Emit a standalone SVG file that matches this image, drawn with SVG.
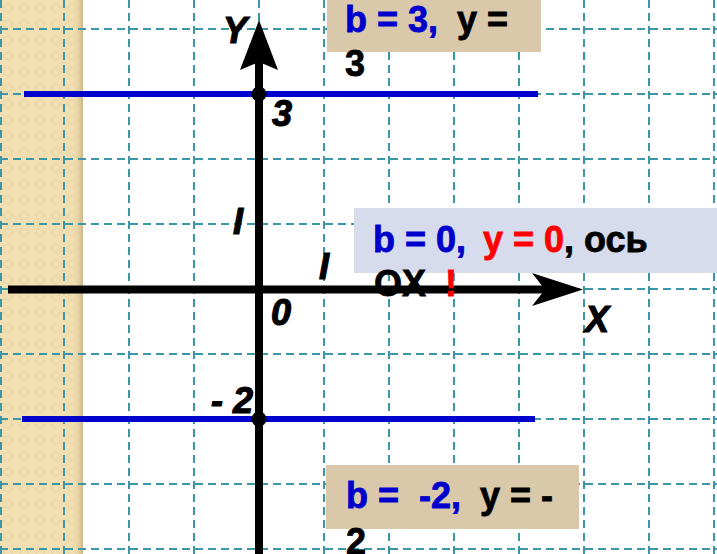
<svg xmlns="http://www.w3.org/2000/svg" width="717" height="554" viewBox="0 0 717 554">
<defs>
<style>
.grid line{stroke:#3b96a8;stroke-width:2;stroke-dasharray:8 5;fill:none}
.blue{stroke:#0000cc;stroke-width:6;fill:none}
.axis{stroke:#000;stroke-width:8;fill:none}
.lbl{font-family:"Liberation Sans",Arial,sans-serif;font-weight:bold;font-style:italic;font-size:36px;fill:#000;stroke:#000;stroke-width:1.2}
.box text{font-family:"Liberation Sans",Arial,sans-serif;font-weight:bold;font-size:36px;fill:#000;stroke:#000;stroke-width:0.8}
.b{fill:#0000cc;stroke:#0000cc}
.r{fill:#ff0000;stroke:#ff0000}
.k{fill:#000;stroke:#000}
.tan{fill:#d9c9aa}
.lav{fill:#d6dcec}
</style>
<pattern id="tex" width="16" height="16" patternUnits="userSpaceOnUse">
<rect width="16" height="16" fill="#f1dfb1"/>
<circle cx="8" cy="8" r="4" fill="none" stroke="#ebd7a7" stroke-width="1.2"/>
</pattern>
<linearGradient id="shade" x1="0" y1="0" x2="1" y2="0">
<stop offset="0" stop-color="#f1dfb1" stop-opacity="0"/>
<stop offset="1" stop-color="#cdb688"/>
</linearGradient>
</defs>
<rect width="717" height="554" fill="#fff"/>
<g id="band">
<rect x="0" y="0" width="83" height="554" fill="url(#tex)"/>
<rect x="72" y="0" width="11" height="554" fill="url(#shade)"/>
</g>
<g id="grid" class="grid">
<line x1="1" y1="0" x2="1" y2="554"/>
<line x1="64" y1="0" x2="64" y2="554"/>
<line x1="129" y1="0" x2="129" y2="554"/>
<line x1="194" y1="0" x2="194" y2="554"/>
<line x1="259" y1="0" x2="259" y2="554"/>
<line x1="324" y1="0" x2="324" y2="554"/>
<line x1="389" y1="0" x2="389" y2="554"/>
<line x1="454" y1="0" x2="454" y2="554"/>
<line x1="519" y1="0" x2="519" y2="554"/>
<line x1="584" y1="0" x2="584" y2="554"/>
<line x1="649" y1="0" x2="649" y2="554"/>
<line x1="714" y1="0" x2="714" y2="554"/>
<line x1="0" y1="29" x2="717" y2="29"/>
<line x1="0" y1="94" x2="717" y2="94"/>
<line x1="0" y1="159" x2="717" y2="159"/>
<line x1="0" y1="224" x2="717" y2="224"/>
<line x1="0" y1="289" x2="717" y2="289"/>
<line x1="0" y1="354" x2="717" y2="354"/>
<line x1="0" y1="419" x2="717" y2="419"/>
<line x1="0" y1="484" x2="717" y2="484"/>
<line x1="0" y1="549" x2="717" y2="549"/>
</g>
<g id="lines">
<line class="blue" x1="24" y1="94" x2="538" y2="94"/>
<line class="blue" x1="22" y1="419" x2="535" y2="419"/>
</g>
<g id="axes">
<line class="axis" x1="259" y1="60" x2="259" y2="554"/>
<polygon points="259,20 278,70 259,62 240,70" fill="#000"/>
<line class="axis" x1="8" y1="289.5" x2="548" y2="289.5"/>
<polygon points="583,289.5 532,273 545,289.5 532,306" fill="#000"/>
<circle cx="259" cy="94" r="7.5" fill="#000"/>
<circle cx="259" cy="419" r="7.5" fill="#000"/>
</g>
<g id="labels">
<text class="lbl" x="223" y="43">Y</text>
<text class="lbl" x="272" y="126">3</text>
<text class="lbl" x="233" y="234">I</text>
<text class="lbl" x="319" y="279">I</text>
<text class="lbl" x="271" y="325">0</text>
<text class="lbl" x="211" y="413">- 2</text>
<text class="lbl" x="585" y="332">X</text>
</g>
<g id="box-top" class="box">
<rect class="tan" x="327" y="0" width="214" height="52"/>
<text x="345" y="32"><tspan class="b">b = 3,</tspan><tspan class="k" x="457">y =</tspan></text>
<text x="345" y="76">3</text>
</g>
<g id="box-mid" class="box">
<rect class="lav" x="354" y="208" width="363" height="65"/>
<text x="373" y="252"><tspan class="b">b = 0,</tspan><tspan class="r" x="483">y = 0</tspan><tspan class="k">, ось</tspan></text>
<text x="374" y="296">OX<tspan class="r" x="445">!</tspan></text>
</g>
<g id="box-bot" class="box">
<rect class="tan" x="326" y="465" width="253" height="64"/>
<text x="346" y="508"><tspan class="b">b =</tspan><tspan class="b" x="419">-2,</tspan><tspan class="k" x="480">y = -</tspan></text>
<text x="346" y="554">2</text>
</g>
</svg>
